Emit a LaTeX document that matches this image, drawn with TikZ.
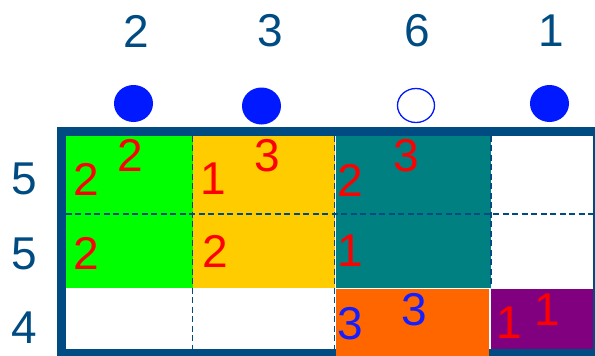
\documentclass[tikz,border=0pt]{standalone}
\usepackage{fontspec}
\setmainfont{Liberation Sans}
\usepackage{xcolor}
\usetikzlibrary{shapes.geometric, positioning}

\definecolor{frameblue}{RGB}{0,76,130}
\definecolor{dotblue}{RGB}{0,25,255}
\definecolor{numred}{RGB}{255,0,0}
\definecolor{numblue}{RGB}{20,30,255}
\definecolor{cgreen}{RGB}{0,255,0}
\definecolor{cyellow}{RGB}{255,204,0}
\definecolor{cteal}{RGB}{0,128,128}
\definecolor{corange}{RGB}{255,102,0}
\definecolor{cpurple}{RGB}{128,0,128}

\tikzset{
  %% Column and row sums
  sumlbl/.style={
    text=frameblue, inner sep=0pt,
    font=\fontsize{46}{46}\selectfont
  },
  %% Numbers inside the cells
  cellnum/.style={
    text=#1, inner sep=0pt,
    font=\fontsize{46}{46}\selectfont
  },
  cellnum/.default=numred,
  %% Column markers
  dotfull/.style={
    ellipse, fill=dotblue, inner sep=0pt,
    minimum width=39pt, minimum height=37pt
  },
  dotopen/.style={
    ellipse, draw=dotblue, fill=white, inner sep=0pt,
    line width=1.3pt, minimum width=37pt, minimum height=34pt
  },
  %% Cell borders
  gridline/.style={dashed, dash pattern=on 6pt off 3.5pt,
                   draw=frameblue, line width=1.3pt},
}

\begin{document}
\begin{tikzpicture}[x=1pt, y=-1pt]

  \useasboundingbox (0,0) rectangle (595,356);
  \clip (0,0) rectangle (595,356);

  %% Coloured blocks
  \fill[cgreen]  (65.7,135.7) rectangle (192.7,287.7);
  \fill[cyellow] (192.7,135.7) rectangle (334.5,287.7);
  \fill[cteal]   (335.7,135.7) rectangle (491,287.7);
  \fill[cpurple] (490.5,289) rectangle (593,350);

  %% Outer frame
  \draw[frameblue, line width=8.3pt] (61.5,131.5) rectangle (597.5,353.5);

  %% Orange block runs over the frame
  \fill[corange] (335.7,289) rectangle (489.3,356);

  %% Dashed grid
  \draw[gridline] (192.7,135.7) -- (192.7,350);
  \draw[gridline] (334.5,135.7) -- (334.5,350);
  \draw[gridline] (491,135.7) -- (491,287.7);
  \draw[gridline] (65.7,214) -- (593,214);

  %% Column sums
  \foreach \x/\v/\nm in {136.5/2/c1, 270.5/3/c2, 417/6/c3, 551/1/c4}
    \node[sumlbl] (sum\nm) at (\x,31) {\v};

  %% Markers
  \node[dotfull] (dot1) at (133.5,103.5) {};
  \node[dotfull] (dot2) at (261.5,106) {};
  \node[dotopen] (dot3) at (416,105.5) {};
  \node[dotfull] (dot4) at (549.5,103.5) {};

  %% Row sums
  \foreach \y/\v/\nm in {178.5/5/r1, 253.5/5/r2, 328/4/r3}
    \node[sumlbl] (sum\nm) at (24.3,\y) {\v};

  %% Cell numbers
  \node[cellnum] (ga) at (86,179.5)  {2};
  \node[cellnum] (gb) at (130.5,155.5) {2};
  \node[cellnum] (gc) at (86,253)    {2};
  \node[cellnum] (ya) at (213,179)   {1};
  \node[cellnum] (yb) at (267.5,156) {3};
  \node[cellnum] (yc) at (215.5,251.5) {2};
  \node[cellnum] (ta) at (350,180)   {2};
  \node[cellnum] (tb) at (406,156)   {3};
  \node[cellnum] (tc) at (350,251)   {1};
  \node[cellnum=numblue] (oa) at (350,323.5) {3};
  \node[cellnum=numblue] (ob) at (414,309.5) {3};
  \node[cellnum] (pa) at (509,322.5) {1};
  \node[cellnum] (pb) at (547,309.5) {1};

\end{tikzpicture}
\end{document}
